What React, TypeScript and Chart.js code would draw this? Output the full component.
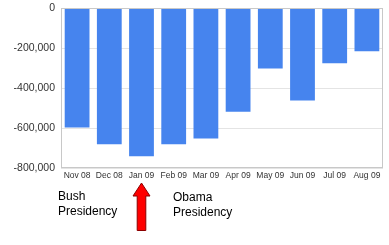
import React, { useEffect, useRef } from "react";
import { Chart, registerables } from "chart.js";

Chart.register(...registerables);

const months = ["Nov 08", "Dec 08", "Jan 09", "Feb 09", "Mar 09", "Apr 09", "May 09", "Jun 09", "Jul 09", "Aug 09"];
const jobChanges = [-597000, -681000, -741000, -681000, -652000, -519000, -303000, -463000, -276000, -216000];
const arrowIndex = 2;
const leftNote = ["Bush", "Presidency"];
const rightNote = ["Obama", "Presidency"];

const boxPlugin = {
  id: "boxAndArrow",
  afterDraw(chart: any) {
    const { ctx, chartArea } = chart;
    ctx.save();
    ctx.strokeStyle = "#c8c8c8";
    ctx.lineWidth = 1;
    ctx.strokeRect(chartArea.left + 0.5, chartArea.top + 0.5, chartArea.right - chartArea.left - 1, chartArea.bottom - chartArea.top - 1);
    const cx = chart.scales.x.getPixelForValue(arrowIndex);
    ctx.beginPath();
    ctx.moveTo(cx, 183);
    ctx.lineTo(cx + 8.5, 196);
    ctx.lineTo(cx + 4.3, 196);
    ctx.lineTo(cx + 4.3, 230.5);
    ctx.lineTo(cx - 4.3, 230.5);
    ctx.lineTo(cx - 4.3, 196);
    ctx.lineTo(cx - 8.5, 196);
    ctx.closePath();
    ctx.fillStyle = "#ff0000";
    ctx.fill();
    ctx.strokeStyle = "#8b0000";
    ctx.lineWidth = 1;
    ctx.stroke();
    ctx.restore();
  },
};

export default function App() {
  const ref = useRef<HTMLCanvasElement>(null);
  useEffect(() => {
    document.body.style.margin = "0";
    const chart = new Chart(ref.current!, {
      type: "bar",
      data: {
        labels: months,
        datasets: [
          {
            data: jobChanges,
            backgroundColor: "#4684ee",
            borderWidth: 0,
            categoryPercentage: 1,
            barPercentage: 0.77,
          },
        ],
      },
      options: {
        animation: false,
        responsive: false,
        maintainAspectRatio: false,
        layout: { padding: { top: 8, right: 6, left: 0, bottom: 0 } },
        plugins: { legend: { display: false }, tooltip: { enabled: false } },
        scales: {
          x: {
            grid: { display: false, drawTicks: false },
            border: { display: false },
            ticks: {
              color: "#333",
              font: { family: "Liberation Sans, Arial", size: 8.5 },
              padding: 3,
              maxRotation: 0,
              autoSkip: false,
            },
            afterFit: (s: any) => {
              s.height = 77;
            },
          },
          y: {
            min: -800000,
            max: 0,
            grid: { color: "#e4e4e4", drawTicks: false },
            border: { display: false },
            ticks: {
              stepSize: 200000,
              color: "#333",
              padding: 6,
              font: { family: "Liberation Sans, Arial", size: 10.5 },
              callback: (v: any) => Number(v).toLocaleString("en-US"),
            },
            afterFit: (s: any) => {
              s.width = 61;
              s.paddingTop = 0;
              s.paddingBottom = 0;
            },
          },
        },
      },
      plugins: [boxPlugin],
    });
    return () => chart.destroy();
  }, []);

  const noteStyle: React.CSSProperties = {
    position: "absolute",
    fontFamily: "Liberation Sans, Arial",
    fontSize: 12,
    lineHeight: "15px",
    color: "#000",
    whiteSpace: "nowrap",
  };

  return (
    <div style={{ position: "relative", width: 389, height: 245, background: "#fff" }}>
      <canvas ref={ref} width={389} height={245} style={{ display: "block" }} />
      <div style={{ ...noteStyle, left: 58, top: 189 }}>
        {leftNote.map((t) => (
          <div key={t}>{t}</div>
        ))}
      </div>
      <div style={{ ...noteStyle, left: 173, top: 190 }}>
        {rightNote.map((t) => (
          <div key={t}>{t}</div>
        ))}
      </div>
    </div>
  );
}
